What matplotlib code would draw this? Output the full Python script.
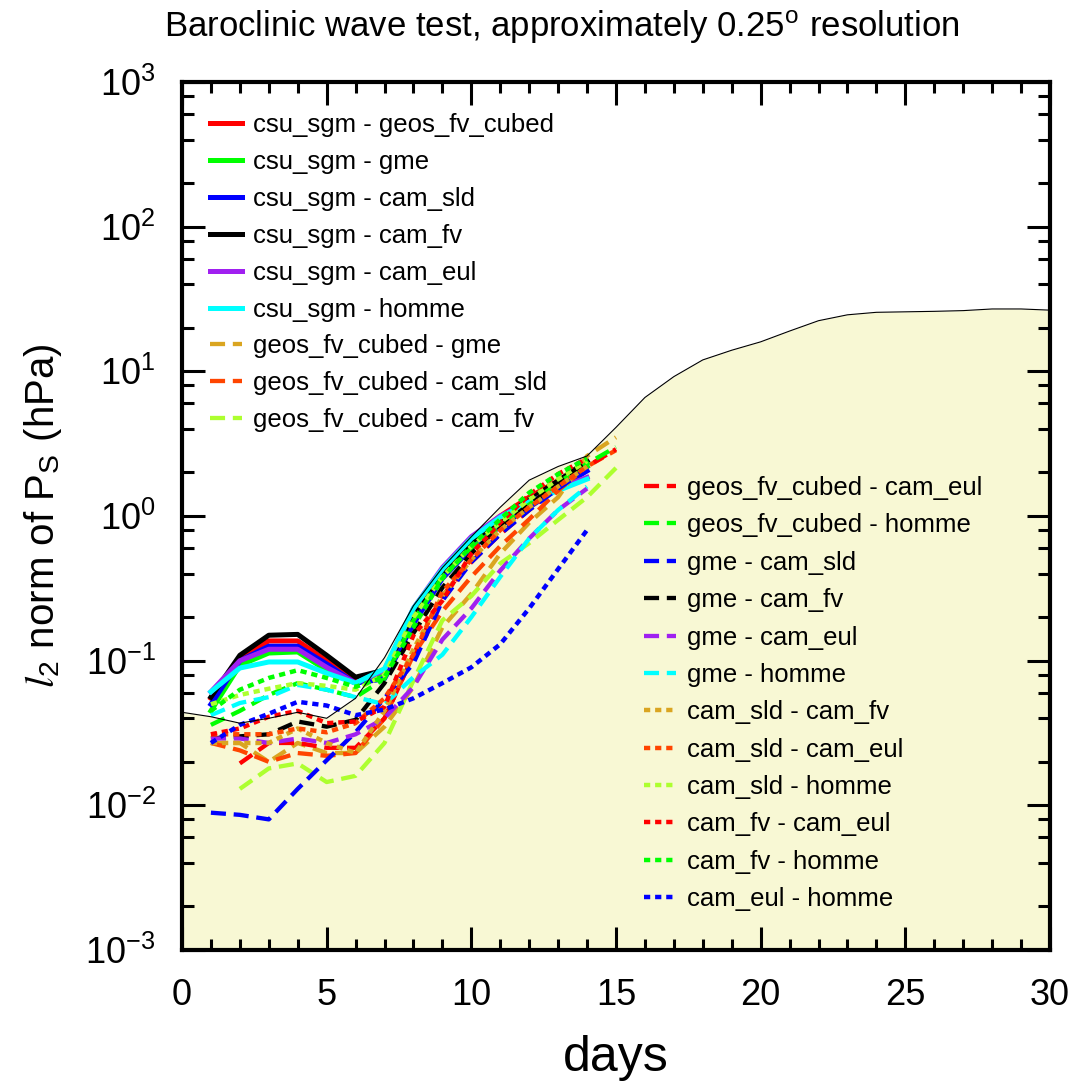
import numpy as np
import matplotlib.pyplot as plt

nan = np.nan

# 时间轴（天）
days14 = list(range(1, 15))
days15 = list(range(1, 16))

# 包络线（参考误差，填充区域上边界）
env_days = list(range(0, 31))
env_vals = [0.044, 0.041, 0.037, 0.040, 0.044, 0.040, 0.055, 0.105, 0.24, 0.44,
            0.72, 1.15, 1.77, 2.2, 2.6, 4.1, 6.6, 9.2, 12.0, 14.0,
            16.0, 19.0, 22.4, 24.6, 25.6, 25.8, 26.0, 26.3, 27.0, 27.0, 26.5]

# csu_sgm 与其他模式的差异
csu_geos = [0.055, 0.106, 0.137, 0.137, 0.100, 0.073, 0.086, 0.22, 0.42, 0.70, 1.0, 1.35, 1.75, 2.2]
csu_gme = [0.045, 0.093, 0.113, 0.115, 0.086, 0.070, 0.080, 0.20, 0.40, 0.66, 0.95, 1.3, 1.7, 2.2]
csu_sld = [0.050, 0.100, 0.126, 0.126, 0.095, 0.070, 0.075, 0.18, 0.37, 0.60, 0.85, 1.15, 1.55, 2.05]
csu_fv = [0.056, 0.109, 0.150, 0.152, 0.109, 0.077, 0.086, 0.21, 0.41, 0.66, 0.95, 1.3, 1.75, 2.4]
csu_eul = [0.061, 0.100, 0.120, 0.120, 0.090, 0.070, 0.086, 0.23, 0.44, 0.72, 1.0, 1.25, 1.55, 1.85]
csu_homme = [0.061, 0.089, 0.098, 0.098, 0.082, 0.070, 0.088, 0.23, 0.43, 0.70, 0.98, 1.25, 1.5, 1.8]

# geos_fv_cubed 与其他模式的差异（到第15天）
geos_gme = [0.027, 0.027, 0.020, 0.027, 0.023, 0.023, 0.035, 0.066, 0.17, 0.29, 0.55, 0.9, 1.35, 2.6, 3.5]
geos_sld = [0.027, 0.024, 0.020, 0.023, 0.022, 0.023, 0.040, 0.11, 0.22, 0.38, 0.62, 0.95, 1.5, 2.2, 2.85]
geos_fv = [nan, 0.013, 0.018, 0.0195, 0.0145, 0.016, 0.027, 0.073, 0.19, 0.28, 0.47, 0.65, 0.94, 1.35, 2.15]
geos_eul = [nan, 0.0195, 0.027, 0.027, 0.025, 0.025, 0.040, 0.11, 0.28, 0.48, 0.75, 1.1, 1.6, 2.2, 2.9]
geos_homme = [0.036, 0.045, 0.058, 0.070, 0.063, 0.056, 0.075, 0.19, 0.38, 0.60, 0.85, 1.2, 1.7, 2.3, 3.0]

# gme 与其他模式的差异
gme_sld = [0.0089, 0.0086, 0.0080, 0.013, 0.0205, 0.032, 0.055, 0.096, 0.26, 0.48, 0.75, 1.1, 1.55, 2.1]
gme_fv = [0.029, 0.030, 0.031, 0.038, 0.035, 0.039, 0.070, 0.155, 0.32, 0.55, 0.85, 1.2, 1.7, 2.4]
gme_eul = [0.029, 0.029, 0.027, 0.029, 0.027, 0.031, 0.040, 0.066, 0.14, 0.23, 0.42, 0.7, 1.1, 1.55]
gme_homme = [0.042, 0.051, 0.056, 0.068, 0.063, 0.056, 0.050, 0.077, 0.11, 0.20, 0.38, 0.7, 1.1, 1.6]

# cam_sld / cam_fv / cam_eul 之间的差异
sld_fv = [0.027, 0.027, 0.027, 0.034, 0.027, 0.023, 0.045, 0.12, 0.28, 0.50, 0.8, 1.15, 1.6, 2.2]
sld_eul = [0.031, 0.031, 0.031, 0.034, 0.032, 0.037, 0.055, 0.11, 0.30, 0.50, 0.8, 1.15, 1.6, 2.2]
sld_homme = [0.050, 0.058, 0.064, 0.070, 0.067, 0.063, 0.080, 0.20, 0.38, 0.62, 0.9, 1.3, 1.8, 2.4]
fv_eul = [0.031, 0.034, 0.041, 0.045, 0.037, 0.038, 0.048, 0.15, 0.26, 0.55, 0.9, 1.4, 1.95, 2.5]
fv_homme = [0.045, 0.063, 0.076, 0.086, 0.076, 0.066, 0.077, 0.17, 0.37, 0.62, 0.95, 1.45, 1.95, 2.5]
eul_homme = [0.027, 0.036, 0.043, 0.052, 0.049, 0.042, 0.046, 0.055, 0.070, 0.09, 0.13, 0.23, 0.43, 0.8]

labels = ['csu_sgm - geos_fv_cubed', 'csu_sgm - gme', 'csu_sgm - cam_sld',
          'csu_sgm - cam_fv', 'csu_sgm - cam_eul', 'csu_sgm - homme',
          'geos_fv_cubed - gme', 'geos_fv_cubed - cam_sld', 'geos_fv_cubed - cam_fv',
          'geos_fv_cubed - cam_eul', 'geos_fv_cubed - homme',
          'gme - cam_sld', 'gme - cam_fv', 'gme - cam_eul', 'gme - homme',
          'cam_sld - cam_fv', 'cam_sld - cam_eul', 'cam_sld - homme',
          'cam_fv - cam_eul', 'cam_fv - homme', 'cam_eul - homme']
series = [csu_geos, csu_gme, csu_sld, csu_fv, csu_eul, csu_homme,
          geos_gme, geos_sld, geos_fv, geos_eul, geos_homme,
          gme_sld, gme_fv, gme_eul, gme_homme,
          sld_fv, sld_eul, sld_homme, fv_eul, fv_homme, eul_homme]

colors = ['#ff0000', '#00ff00', '#0000ff', '#000000', '#a020f0', '#00ffff',
          '#daa520', '#ff4500', '#adff2f']

plt.rcParams['font.family'] = ['Liberation Sans', 'DejaVu Sans']
plt.rcParams['mathtext.fontset'] = 'stix'
plt.rcParams['axes.unicode_minus'] = False

fig = plt.figure(figsize=(10.8, 10.88), dpi=100)
ax = fig.add_axes([0.1685, 0.1268, 0.8037, 0.7978])

# 包络填充
ax.fill_between(env_days, env_vals, 1e-3, color='#f8f8d4', lw=0, zorder=1)

handles = []
for i, (lab, vals) in enumerate(zip(labels, series)):
    c = colors[i % 9]
    x = days15 if len(vals) == 15 else days14
    if i < 6:
        ls, lw = '-', 3.6
    elif i < 15:
        ls, lw = (0, (3.5, 1.8)), 3.1
    else:
        ls, lw = (0, (1.4, 1.1)), 3.2
    h, = ax.plot(x, vals, color=c, ls=ls, lw=lw, label=lab, zorder=2 + i * 0.01)
    handles.append(h)

ax.plot(env_days, env_vals, color='black', lw=0.8, zorder=3)

ax.set_yscale('log')
ax.set_xlim(0, 30)
ax.set_ylim(1e-3, 1e3)
ax.set_xticks(range(0, 31, 5))
ax.set_xticks(range(0, 31), minor=True)
ax.yaxis.set_minor_locator(plt.matplotlib.ticker.LogLocator(base=10, subs=(2, 4, 6, 8)))
ax.yaxis.set_minor_formatter(plt.NullFormatter())

for s in ax.spines.values():
    s.set_linewidth(3)
ax.tick_params(which='both', direction='in', top=True, right=True, width=2.2)
ax.tick_params(axis='y', which='major', length=16.5, pad=19, labelsize=26)
ax.tick_params(axis='y', which='minor', length=8.5)
ax.tick_params(axis='x', which='major', length=16.5, pad=20, labelsize=26)
ax.tick_params(axis='x', which='minor', length=8)

ax.set_xlabel('days', fontsize=36)
ax.xaxis.set_label_coords(0.5, -0.098)
ax.set_ylabel(r'$l_{\mathdefault{2}}$ norm of P$_{\mathdefault{S}}$ (hPa)', fontsize=29)
ax.yaxis.set_label_coords(-0.136, 0.5)

fig.text(0.52, 0.975, r'Baroclinic wave test, approximately 0.25$^{\mathdefault{o}}$ resolution',
         ha='center', va='center', fontsize=25)

leg1 = ax.legend(handles=handles[:9], loc='upper left', bbox_to_anchor=(0.032, 0.964),
                 frameon=False, fontsize=18.5, handlelength=1.25, handletextpad=0.45,
                 labelspacing=0.5, borderpad=0, borderaxespad=0)
ax.add_artist(leg1)
ax.legend(handles=handles[9:], loc='upper left', bbox_to_anchor=(0.532, 0.546),
          frameon=False, fontsize=18.5, handlelength=1.25, handletextpad=0.45,
          labelspacing=0.52, borderpad=0, borderaxespad=0)

plt.savefig('out.png', dpi=100)
